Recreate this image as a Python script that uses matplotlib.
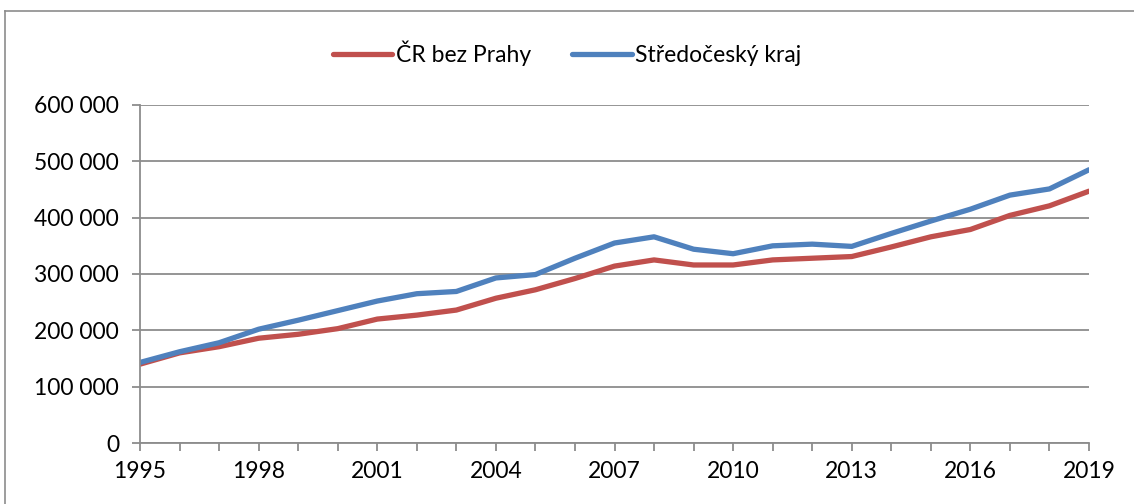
import matplotlib.pyplot as plt
from matplotlib.lines import Line2D
from matplotlib.ticker import FuncFormatter, MultipleLocator

years = list(range(1995, 2020))
cr_bez_prahy = [140000, 160000, 171000, 186000, 193000, 203000, 220000, 227000, 236000,
                257000, 272000, 292000, 314000, 325000, 316000, 316000, 325000, 328000,
                331000, 348000, 366000, 379000, 404000, 421000, 447000]
stredocesky = [143000, 162000, 178000, 202000, 218000, 235000, 252000, 265000, 269000,
               293000, 299000, 328000, 355000, 366000, 344000, 336000, 350000, 353000,
               349000, 372000, 394000, 415000, 440000, 451000, 485000]
series_names = ['ČR bez Prahy', 'Středočeský kraj']
colors = ['#C0504D', '#4F81BD']

plt.rcParams['font.family'] = ['Lato', 'DejaVu Sans']

fig = plt.figure(figsize=(11.34, 5.04), dpi=100)
ax = fig.add_axes([0.1235, 0.121, 0.8368, 0.6707])

ax.plot(years, cr_bez_prahy, color=colors[0], lw=3.8, label=series_names[0], solid_capstyle='round')
ax.plot(years, stredocesky, color=colors[1], lw=3.8, label=series_names[1], solid_capstyle='round')

ax.set_xlim(1995, 2019)
ax.set_ylim(0, 600000)
ax.yaxis.set_major_locator(MultipleLocator(100000))
ax.xaxis.set_major_locator(MultipleLocator(3))
ax.xaxis.set_minor_locator(MultipleLocator(1))
ax.yaxis.set_major_formatter(FuncFormatter(lambda v, p: f'{int(v):,}'.replace(',', ' ')))

ax.grid(axis='y', color='#8c8c8c', lw=1.3)
ax.set_axisbelow(True)
for s in ['top', 'right']:
    ax.spines[s].set_visible(False)
for s in ['left', 'bottom']:
    ax.spines[s].set_color('#8c8c8c')
    ax.spines[s].set_linewidth(1.3)

ax.tick_params(axis='both', which='both', colors='#8c8c8c', labelcolor='black',
               labelsize=16.5, width=1.3, length=6, direction='out')
ax.tick_params(axis='x', pad=7)
ax.tick_params(axis='y', pad=9)

handles = [Line2D([], [], color=c, lw=3.8, solid_capstyle='round') for c in colors]
fig.legend(handles, series_names, loc='center', bbox_to_anchor=(0.5, 0.895), ncol=2,
           frameon=False, fontsize=16.5, handlelength=2.6, handletextpad=0.15, columnspacing=1.8)

# outer chart frame
fig.add_artist(Line2D([5 / 1134, 1], [1 - 11 / 504, 1 - 11 / 504], color='#8c8c8c', lw=1.2))
fig.add_artist(Line2D([5 / 1134, 5 / 1134], [0, 1 - 11 / 504], color='#8c8c8c', lw=1.2))

fig.savefig('out.png', dpi=100)
